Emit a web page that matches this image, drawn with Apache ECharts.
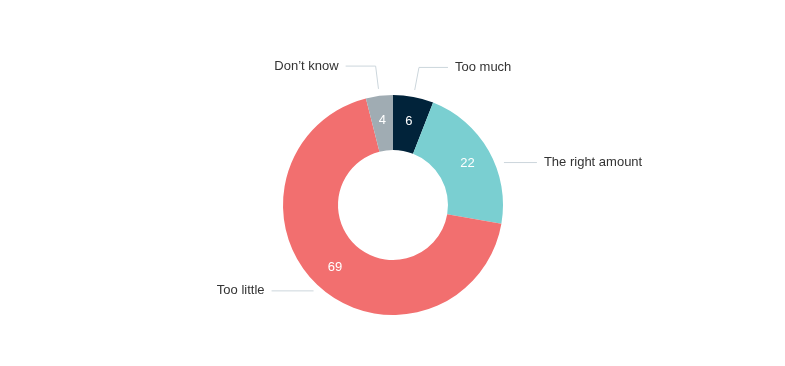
<!DOCTYPE html>
<html>
<head>
<meta charset="utf-8">
<script src="https://cdn.jsdelivr.net/npm/echarts@6/dist/echarts.min.js"></script>
<style>
html,body{margin:0;padding:0;background:#fff;}
#main{width:785px;height:366px;}
</style>
</head>
<body>
<div id="main"></div>
<script>
var categories = ['Too much', 'The right amount', 'Too little', "Don\u2019t know"];
var values = [6, 22, 69, 4];
var colors = ['#01233a', '#7acfd1', '#f26f6f', '#a0acb3'];
// 引导线长度
var lineLen = [23, 0, 0, 23];
var lineLen2 = [29, 33, 42, 30];

var ringData = [];
var labelData = [];
for (var i = 0; i < categories.length; i++) {
    ringData.push({name: categories[i], value: values[i], itemStyle: {color: colors[i]}});
    labelData.push({
        name: categories[i],
        value: values[i],
        labelLine: {length: lineLen[i], length2: lineLen2[i]}
    });
}

var myChart = echarts.init(document.getElementById('main'));
var option = {
    animation: false,
    textStyle: {fontFamily: 'Liberation Sans, Arial, sans-serif'},
    series: [
        {
            // 外侧标签
            type: 'pie',
            radius: [0, 117],
            center: [393, 205],
            startAngle: 90,
            clockwise: true,
            silent: true,
            avoidLabelOverlap: false,
            itemStyle: {color: 'rgba(0,0,0,0)'},
            label: {
                show: true,
                position: 'outside',
                formatter: '{b}',
                color: '#333',
                fontSize: 13,
                distanceToLabelLine: 7
            },
            labelLine: {
                show: true,
                lineStyle: {color: '#ccd6dc', width: 1}
            },
            labelLayout: function (params) {
                // 稍微下移 "The right amount"
                if (params.dataIndex === 1 && params.labelLinePoints) {
                    var pts = params.labelLinePoints.map(function (p) {
                        return [p[0] + 9, p[1] + 15];
                    });
                    return {dx: 9, dy: 15, labelLinePoints: pts};
                }
            },
            data: labelData
        },
        {
            type: 'pie',
            radius: [55, 110],
            center: [393, 205],
            startAngle: 90,
            clockwise: true,
            label: {
                show: true,
                position: 'inside',
                formatter: '{c}',
                color: '#fff',
                fontSize: 13
            },
            labelLine: {show: false},
            itemStyle: {borderWidth: 0},
            data: ringData
        }
    ]
};
myChart.setOption(option);
</script>
</body>
</html>
